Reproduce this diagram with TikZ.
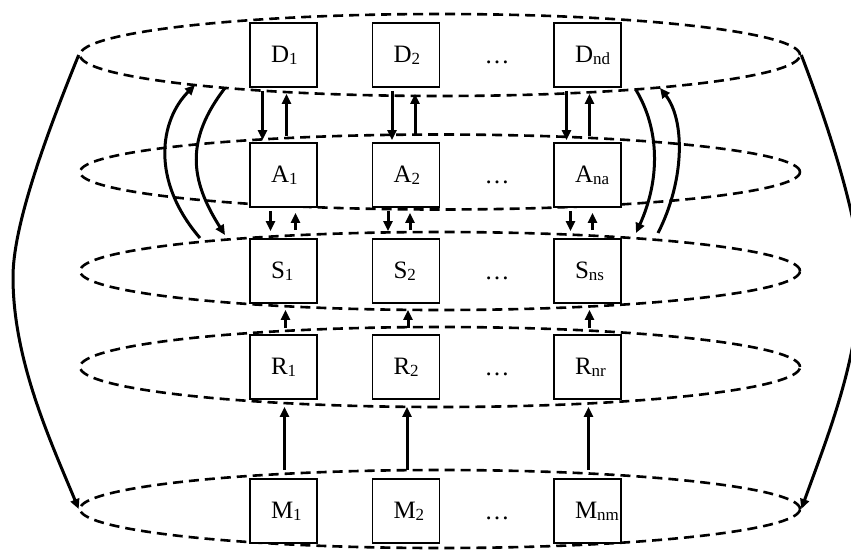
\documentclass[tikz,border=0pt]{standalone}
\usepackage{fontspec}
\setmainfont{Liberation Serif}
\usetikzlibrary{arrows.meta,positioning,shapes.geometric}
\tikzset{
  >={Triangle[length=10pt,width=9pt]},
  box/.style ={draw, fill=white, line width=1.8pt, minimum width=67pt, minimum height=64pt,
               inner sep=0pt, text width=25pt, align=left, font=\fontsize{25}{27}\selectfont},
  ring/.style={draw, ellipse, dash pattern=on 10pt off 6pt, line width=2.6pt,
               minimum width=720pt, inner sep=0pt},
  arr/.style ={->, line width=3pt},
  dots/.style={font=\fontsize{25}{27}\selectfont}
}
\newcommand{\lsub}[1]{\raisebox{-2pt}{\fontsize{17}{17}\selectfont #1}}

\begin{document}
\begin{tikzpicture}[x=1pt,y=-1pt]
\useasboundingbox (0,0) rectangle (851,550);

% layers
\node[ring, minimum height=82pt] (Dring) at (440,55)  {};
\node[ring, minimum height=75pt] (Aring) at (440,172) {};
\node[ring, minimum height=78pt] (Sring) at (440,271) {};
\node[ring, minimum height=80pt] (Rring) at (440,367) {};
\node[ring, minimum height=78pt] (Mring) at (440,509) {};

% boxes
\foreach \r/\y/\s in {D/55/nd, A/175/na, S/271/ns, R/367/nr, M/511/nm} {
  \node[box] (\r1) at (283.5,\y) {\r\lsub{1}};
  \node[box] (\r2) at (406,\y)   {\r\lsub{2}};
  \node[dots] (\r dots) at (497,\y+7) {\dots};
  \node[box] (\r3) at (587.5,\y) {\r\lsub{\s}};
}

% arrows between neighbouring layers
\foreach \c/\p/\q/\u/\v in {1/-21/3/-13/12, 2/-14/9/-18/4, 3/-21/2/-17/5} {
  \draw[arr] ([xshift=\p pt,yshift=-3pt]D\c.south) -- ([xshift=\p pt,yshift=2pt]A\c.north);
  \draw[arr] ([xshift=\q pt,yshift=6pt]A\c.north) -- ([xshift=\q pt,yshift=-6pt]D\c.south);
  \draw[arr] ([xshift=\u pt,yshift=-3pt]A\c.south) -- ([xshift=\u pt,yshift=7pt]S\c.north);
  \draw[arr] ([xshift=\v pt,yshift=8pt]S\c.north) -- ([xshift=\v pt,yshift=-5pt]A\c.south);
  \draw[arr] ([xshift=2pt,yshift=6pt]R\c.north) -- ([xshift=2pt,yshift=-6pt]S\c.south);
  \draw[arr] ([xshift=1pt,yshift=8pt]M\c.north) -- ([xshift=1pt,yshift=-7pt]R\c.south);
}

% curved arrows D <-> S
\coordinate (lu0) at (200,238); \coordinate (lu1) at (195,85);
\coordinate (ld0) at (225,88);  \coordinate (ld1) at (225,235);
\coordinate (rd0) at (636,90);  \coordinate (rd1) at (636,233);
\coordinate (ru0) at (658,233); \coordinate (ru1) at (660,88);
\draw[arr] (lu0) .. controls (150,180) and (160,120) .. (lu1);
\draw[arr] (ld0) .. controls (185,140) and (190,180) .. (ld1);
\draw[arr] (rd0) .. controls (660,130) and (660,180) .. (rd1);
\draw[arr] (ru0) .. controls (685,180) and (685,120) .. (ru1);

% outer arrows D -> M
\draw[arr] (Dring.west) .. controls (40,150) and (13,230) .. (13,277)
                        .. controls (13,360) and (50,440) .. (Mring.west);
\draw[arr] (Dring.east) .. controls (830,130) and (862,230) .. (860,280)
                        .. controls (858,360) and (830,430) .. (Mring.east);
\end{tikzpicture}
\end{document}
